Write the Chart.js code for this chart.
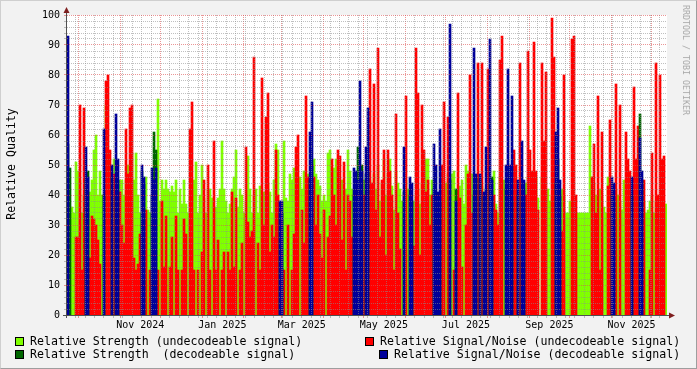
<!DOCTYPE html>
<html>
<head>
<meta charset="utf-8">
<script src="https://cdn.jsdelivr.net/npm/chart.js@4.4.1/dist/chart.umd.min.js"></script>
<style>
    html, body { margin: 0; padding: 0; background: #f2f2f2; }
    #wrap { position: relative; width: 697px; height: 369px; overflow: hidden; font-family: 'DejaVu Sans Mono', monospace; color: #000; }
    #chart { position: absolute; left: 0; top: 0; }
    .frame { position: absolute; left: 0; top: 0; width: 697px; height: 369px; box-sizing: border-box; border: 1px solid; border-color: #cfcfcf #9e9e9e #9e9e9e #cfcfcf; pointer-events: none; }
    .ytitle { position: absolute; left: 11px; top: 164px; transform: translate(-50%, -50%) rotate(-90deg); font-size: 11.6px; white-space: nowrap; }
    .mark { position: absolute; left: 686px; top: 60px; transform: translate(-50%, -50%) rotate(90deg); font-size: 8.3px; color: #a8a8a8; white-space: nowrap; }
    .lg { position: absolute; font-size: 11.6px; line-height: 13px; white-space: pre; }
    .sw { position: absolute; width: 9px; height: 9px; box-sizing: border-box; border: 1px solid #000; }
</style>
</head>
<body>
<div id="wrap">
    <canvas id="chart" width="697" height="369"></canvas>
    <div class="ytitle">Relative Quality</div>
    <div class="mark">RRDTOOL / TOBI OETIKER</div>
    <div id="legend"></div>
    <div class="frame"></div>
</div>
<script>
const DAY = 86400000;
const rangeStart = Date.UTC(2024, 8, 22, 14);
const rangeEnd = Date.UTC(2025, 11, 12, 9);

// one value per bin (about 1.5 days each)
const strength = [
    57, 49, 36, 34, 51, 48, 45, 34, 40, 45,  48, 41, 45, 55, 60, 40, 48, 40, 40, 70,
    50, 45, 46, 52, 40, 45, 45, 45, 40, 45,  50, 42, 54, 45, 54, 40, 34, 48, 44, 46,
    35, 34, 40, 61, 55, 72, 38, 45, 42, 45,  42, 41, 43, 41, 45, 34, 42, 37, 45, 37,
    34, 40, 38, 45, 51, 34, 40, 50, 39, 34,  42, 42, 39, 34, 36, 39, 42, 58, 42, 38,
    34, 37, 42, 46, 55, 36, 42, 40, 34, 38,  53, 42, 34, 40, 42, 34, 43, 40, 41, 36,
    44, 41, 34, 45, 57, 55, 34, 34, 58, 39,  38, 47, 45, 49, 45, 40, 46, 42, 48, 40,
    47, 45, 50, 52, 47, 45, 43, 38, 40, 38,  54, 55, 46, 49, 52, 40, 38, 45, 40, 42,
    55, 48, 42, 40, 45, 56, 48, 50, 45, 47,  48, 45, 40, 47, 42, 50, 38, 44, 52, 40,
    47, 52, 43, 35, 48, 44, 42, 38, 41, 45,  42, 40, 38, 38, 40, 42, 37, 44, 42, 52,
    52, 40, 45, 42, 40, 40, 38, 42, 40, 44,  47, 45, 47, 48, 42, 40, 43, 45, 37, 50,
    48, 45, 47, 40, 46, 42, 45, 43, 40, 42,  50, 44, 46, 48, 37, 34, 46, 40, 45, 42,
    40, 42, 38, 45, 40, 40, 44, 40, 42, 44,  46, 42, 40, 45, 46, 39, 0, 46, 44, 40,
    42, 38, 40, 45, 44, 52, 40, 42, 40, 34,  34, 38, 34, 36, 34, 34, 34, 34, 34, 34,
    34, 63, 46, 44, 40, 38, 42, 40, 36, 34,  46, 40, 40, 38, 42, 40, 38, 35, 45, 40,
    46, 42, 40, 44, 40, 45, 67, 45, 38, 34,  35, 38, 40, 34, 38, 36, 34, 38, 34, 37
];

const snr = [
    93, 0, 0, 0, 26, 26, 70, 15, 69, 56,  46, 19, 33, 32, 30, 25, 17, 0, 62, 78,
    80, 55, 50, 47, 67, 52, 41, 30, 24, 62,  47, 69, 70, 19, 15, 17, 27, 50, 46, 35,
    0, 15, 49, 45, 49, 15, 0, 38, 16, 33,  0, 16, 26, 0, 33, 15, 0, 15, 32, 27,
    0, 62, 71, 15, 0, 15, 0, 21, 45, 0,  50, 15, 0, 58, 15, 25, 0, 15, 21, 0,
    21, 15, 41, 16, 39, 0, 15, 24, 0, 56,  31, 26, 28, 86, 0, 24, 15, 79, 30, 66,
    74, 21, 30, 26, 55, 40, 38, 38, 15, 0,  30, 0, 15, 27, 56, 60, 0, 35, 24, 73,
    46, 61, 71, 46, 30, 40, 27, 19, 35, 0,  26, 33, 52, 40, 30, 55, 53, 25, 51, 15,
    40, 38, 26, 49, 48, 45, 78, 48, 40, 56,  69, 82, 44, 77, 35, 89, 26, 45, 55, 20,
    55, 48, 40, 15, 67, 34, 22, 0, 56, 73,  0, 46, 44, 23, 89, 74, 20, 70, 55, 41,
    45, 30, 40, 57, 50, 41, 62, 50, 71, 0,  66, 97, 0, 15, 38, 74, 39, 16, 0, 30,
    47, 80, 34, 89, 47, 84, 47, 84, 41, 56,  82, 92, 45, 40, 35, 30, 85, 93, 0, 50,
    82, 50, 73, 55, 50, 45, 84, 58, 45, 40,  88, 55, 48, 91, 48, 35, 0, 84, 58, 81,
    0, 0, 99, 86, 61, 69, 45, 28, 80, 0,  0, 0, 92, 93, 40, 0, 0, 0, 0, 0,
    0, 0, 46, 57, 34, 73, 15, 61, 0, 0,  43, 65, 46, 44, 77, 0, 70, 0, 0, 61,
    52, 48, 46, 76, 52, 63, 59, 48, 45, 0,  0, 15, 54, 0, 84, 40, 80, 52, 53, 0
];

// bins where the signal was decodeable
const decodedBins = [
    0, 1, 9, 10, 18, 22, 24, 25, 37, 38, 42, 43, 44, 106, 107, 121, 122,
    143, 144, 145, 146, 147, 149, 150, 168, 171, 172, 183, 184, 185, 186,
    191, 194, 203, 204, 206, 208, 209, 211, 212, 219, 220, 221, 222, 225,
    227, 228, 244, 245, 246, 272, 273, 282, 286, 287
];

const xLabelText = ['Nov 2024', 'Jan 2025', 'Mar 2025', 'May 2025', 'Jul 2025', 'Sep 2025', 'Nov 2025'];
const xLabelDates = ['2024-11-16', '2025-01-16', '2025-03-16', '2025-05-16', '2025-07-16', '2025-09-16', '2025-11-16'];
const yTickLabels = [0, 10, 20, 30, 40, 50, 60, 70, 80, 90, 100];

const colors = {
    strUndec: '#80ff00',
    strDec: '#006600',
    snrUndec: '#ff0000',
    snrDec: '#000099'
};
const minorGrid = 'rgba(140,140,140,0.55)';
const majorGrid = 'rgba(222,80,80,0.6)';

const legendItems = [
    { text: 'Relative Strength (undecodeable signal)', color: colors.strUndec, x: 15, y: 337 },
    { text: 'Relative Strength  (decodeable signal)', color: colors.strDec, x: 15, y: 350 },
    { text: 'Relative Signal/Noise (undecodeable signal)', color: colors.snrUndec, x: 365, y: 337 },
    { text: 'Relative Signal/Noise (decodeable signal)', color: colors.snrDec, x: 379, y: 350 }
];

const legendEl = document.getElementById('legend');
legendItems.forEach(item => {
    const sw = document.createElement('div');
    sw.className = 'sw';
    sw.style.left = item.x + 'px';
    sw.style.top = item.y + 'px';
    sw.style.background = item.color;
    legendEl.appendChild(sw);
    const t = document.createElement('div');
    t.className = 'lg';
    t.style.left = (item.x + 15) + 'px';
    t.style.top = (item.y - 2) + 'px';
    t.textContent = item.text;
    legendEl.appendChild(t);
});

const dayOf = ms => (ms - rangeStart) / DAY;
const spanDays = dayOf(rangeEnd);

// x grid: sundays (minor) and month starts (major)
const weekDays = [];
let sunday = Date.UTC(2024, 8, 29);
while (sunday < rangeEnd) {
    weekDays.push(dayOf(sunday));
    sunday += 7 * DAY;
}
const monthDays = [];
for (let m = 9; m < 9 + 15; m++) {
    const t = Date.UTC(2024, m, 1);
    if (t > rangeStart && t < rangeEnd) monthDays.push(dayOf(t));
}
const labelDays = xLabelDates.map(d => dayOf(Date.parse(d + 'T00:00:00Z')));

const isDecoded = new Set(decodedBins);
const pick = (arr, dec) => arr.map((v, i) => (isDecoded.has(i) === dec && v > 0) ? v : null);

const tickFont = { family: 'DejaVu Sans Mono', size: 10 };

// rrdtool style: white canvas, dotted grid over the areas, axes with arrows
const plotFrame = {
    id: 'plotFrame',
    beforeDraw(chart) {
        const { ctx, chartArea: a } = chart;
        ctx.save();
        ctx.fillStyle = '#ffffff';
        ctx.fillRect(a.left, a.top, a.right - a.left, a.bottom - a.top);
        ctx.restore();
    },
    afterDatasetsDraw(chart) {
        const { ctx, chartArea: a } = chart;
        const xs = chart.scales.time;
        const ys = chart.scales.y;
        const vLine = (d, color) => {
            const x = Math.floor(xs.getPixelForValue(d)) + 0.5;
            ctx.strokeStyle = color;
            ctx.setLineDash([1, 1]);
            ctx.beginPath();
            ctx.moveTo(x, a.top);
            ctx.lineTo(x, a.bottom);
            ctx.stroke();
            ctx.setLineDash([]);
            ctx.beginPath();
            ctx.moveTo(x, a.bottom);
            ctx.lineTo(x, a.bottom + 3);
            ctx.stroke();
        };
        const hLine = (v, color) => {
            const y = Math.floor(ys.getPixelForValue(v)) + 0.5;
            ctx.strokeStyle = color;
            ctx.setLineDash([1, 1]);
            ctx.beginPath();
            ctx.moveTo(a.left, y);
            ctx.lineTo(a.right, y);
            ctx.stroke();
            ctx.setLineDash([]);
            ctx.beginPath();
            ctx.moveTo(a.left - 3, y);
            ctx.lineTo(a.left, y);
            ctx.stroke();
        };
        ctx.save();
        ctx.lineWidth = 1;
        const monthSet = new Set(monthDays.map(d => Math.floor(xs.getPixelForValue(d))));
        weekDays.forEach(d => {
            if (!monthSet.has(Math.floor(xs.getPixelForValue(d)))) vLine(d, minorGrid);
        });
        monthDays.forEach(d => vLine(d, majorGrid));
        for (let v = 2; v <= 100; v += 2) {
            hLine(v, v % 10 === 0 ? majorGrid : minorGrid);
        }
        ctx.restore();
    },
    afterDraw(chart) {
        const { ctx, chartArea: a } = chart;
        ctx.save();
        ctx.strokeStyle = '#505050';
        ctx.lineWidth = 1;
        ctx.beginPath();
        ctx.moveTo(a.left - 0.5, a.bottom + 3);
        ctx.lineTo(a.left - 0.5, a.top - 2);
        ctx.moveTo(a.left - 4, a.bottom + 0.5);
        ctx.lineTo(a.right + 2, a.bottom + 0.5);
        ctx.stroke();
        ctx.fillStyle = '#7f1f1f';
        ctx.beginPath();
        ctx.moveTo(a.left - 3.5, a.top - 2);
        ctx.lineTo(a.left + 2.5, a.top - 2);
        ctx.lineTo(a.left - 0.5, a.top - 8);
        ctx.closePath();
        ctx.fill();
        ctx.beginPath();
        ctx.moveTo(a.right + 2, a.bottom - 2.5);
        ctx.lineTo(a.right + 2, a.bottom + 3.5);
        ctx.lineTo(a.right + 8, a.bottom + 0.5);
        ctx.closePath();
        ctx.fill();
        ctx.restore();
    }
};

new Chart(document.getElementById('chart'), {
    type: 'bar',
    data: {
        labels: strength.map((_, i) => i),
        datasets: [
            { label: 'Relative Signal/Noise (decodeable signal)', data: pick(snr, true), backgroundColor: colors.snrDec },
            { label: 'Relative Strength (decodeable signal)', data: pick(strength, true), backgroundColor: colors.strDec },
            { label: 'Relative Signal/Noise (undecodeable signal)', data: pick(snr, false), backgroundColor: colors.snrUndec },
            { label: 'Relative Strength (undecodeable signal)', data: pick(strength, false), backgroundColor: colors.strUndec }
        ]
    },
    options: {
        responsive: false,
        animation: false,
        devicePixelRatio: 1,
        layout: { padding: { left: 20, right: 30, top: 15, bottom: 0 } },
        datasets: {
            bar: { grouped: false, barPercentage: 1, categoryPercentage: 1, borderWidth: 0, xAxisID: 'x', yAxisID: 'y' }
        },
        plugins: { legend: { display: false }, tooltip: { enabled: false } },
        scales: {
            x: { display: false, offset: true },
            time: {
                type: 'linear',
                axis: 'x',
                position: 'bottom',
                offset: false,
                bounds: 'data',
                min: 0,
                max: spanDays,
                afterBuildTicks: s => {
                    s.ticks = labelDays.map(v => ({ value: v }));
                },
                afterFit: s => { s.height = 54; },
                ticks: {
                    autoSkip: false,
                    maxRotation: 0,
                    padding: 1,
                    color: '#000',
                    font: tickFont,
                    callback: (v, i) => xLabelText[i]
                },
                grid: { display: false, offset: false, drawTicks: true, tickLength: 3 },
                border: { display: false }
            },
            y: {
                min: 0,
                max: 100,
                afterBuildTicks: s => {
                    s.ticks = yTickLabels.map(v => ({ value: v }));
                },
                afterFit: s => { s.width = 47; },
                ticks: {
                    autoSkip: false,
                    padding: 4,
                    color: '#000',
                    font: tickFont
                },
                grid: { display: false, drawTicks: true, tickLength: 3 },
                border: { display: false }
            }
        }
    },
    plugins: [plotFrame]
});
</script>
</body>
</html>
